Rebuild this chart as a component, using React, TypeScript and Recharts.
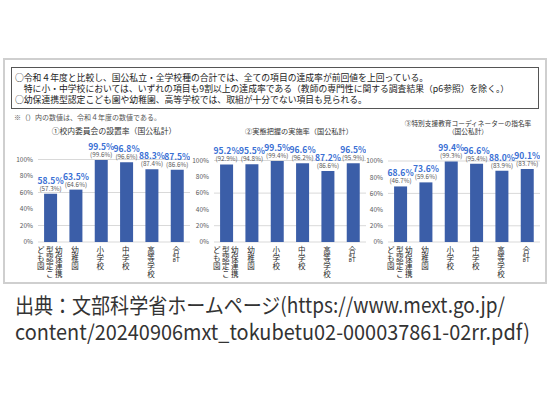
import { Bar, BarChart, CartesianGrid, LabelList, XAxis, YAxis } from "recharts";

const categories = ["幼保連携型認定こども園", "幼稚園", "小学校", "中学校", "高等学校", "合計"];

const committeeRate = [58.5, 63.5, 99.5, 96.8, 88.3, 87.5];
const committeePrev = [57.3, 64.6, 99.6, 96.6, 87.4, 86.6];
const assessmentRate = [95.2, 95.5, 99.5, 96.6, 87.2, 96.5];
const assessmentPrev = [92.9, 94.8, 99.4, 96.2, 86.6, 95.9];
const coordinatorRate = [68.6, 73.6, 99.4, 96.6, 88.0, 90.1];
const coordinatorPrev = [46.7, 59.6, 99.3, 95.4, 83.9, 83.7];

const yTicks = [0, 20, 40, 60, 80, 100];

const summaryLines = [
  "○令和４年度と比較し、国公私立・全学校種の合計では、全ての項目の達成率が前回値を上回っている。",
  "　特に小・中学校においては、いずれの項目も9割以上の達成率である（教師の専門性に関する調査結果（p6参照）を除く。）",
  "○幼保連携型認定こども園や幼稚園、高等学校では、取組が十分でない項目も見られる。",
];
const noteText = "※（）内の数値は、令和４年度の数値である。";
const sourceLines = [
  "出典：文部科学省ホームページ(https://www.mext.go.jp/",
  "content/20240906mxt_tokubetu02-000037861-02rr.pdf)",
];

const FONT = '"Noto Sans CJK JP", "Noto Sans", sans-serif';
const BAR = "#3b5ea8";
const VALUE_BLUE = "#3a70d4";

const build = (rates: number[], prevs: number[]) =>
  categories.map((name, i) => ({ name, rate: rates[i], prev: prevs[i] }));

// vertical (tategaki) category label, 4 chars per column, columns right to left
function CategoryTick({ x, y, payload }: any) {
  const s: string = payload.value;
  const cols: string[] = [];
  for (let i = 0; i < s.length; i += 4) cols.push(s.slice(i, i + 4));
  return (
    <g>
      {cols.map((col, ci) => {
        const cx = x - 1 + ((cols.length - 1) / 2 - ci) * 9;
        return col.split("").map((ch, k) => (
          <text
            key={ci + "-" + k}
            x={cx}
            y={y + 7 + k * 7.9}
            textAnchor="middle"
            fontSize={7.5}
            fill="#262626"
            fontFamily={FONT}
          >
            {ch}
          </text>
        ));
      })}
    </g>
  );
}

function RateChart({
  rates,
  prevs,
  plotLeft,
  plotRight,
  plotTop,
}: {
  rates: number[];
  prevs: number[];
  plotLeft: number;
  plotRight: number;
  plotTop: number;
}) {
  const axisW = 26;
  const top = 120;
  const bottom = 242;
  const left = plotLeft - axisW;
  const width = plotRight - left;
  return (
    <div style={{ position: "absolute", left, top }}>
      <BarChart
        width={width}
        height={bottom - top + 40}
        data={build(rates, prevs)}
        margin={{ top: plotTop - top, right: 0, bottom: 0, left: 0 }}
        barCategoryGap="24%"
        style={{ overflow: "visible" }}
      >
        <CartesianGrid vertical={false} stroke="#d9d9d9" />
        <XAxis
          dataKey="name"
          interval={0}
          axisLine={false}
          tickLine={false}
          tickSize={0}
          tickMargin={4}
          height={40}
          tick={<CategoryTick />}
        />
        <YAxis
          domain={[0, 100]}
          ticks={yTicks}
          width={axisW}
          axisLine={false}
          tickLine={false}
          tickSize={0}
          tickMargin={5}
          tickFormatter={(v) => `${v}%`}
          tick={{ fontSize: 6.5, fill: "#595959", fontFamily: FONT }}
        />
        <Bar dataKey="rate" fill={BAR} isAnimationActive={false}>
          <LabelList
            dataKey="rate"
            content={(p: any) => (
              <text
                x={p.x + p.width / 2}
                y={p.y - 10}
                textAnchor="middle"
                fontSize={8.5}
                fontWeight="bold"
                fill={VALUE_BLUE}
                fontFamily={FONT}
              >
                {Number(p.value).toFixed(1)}%
              </text>
            )}
          />
          <LabelList
            dataKey="prev"
            content={(p: any) => (
              <text
                x={p.x + p.width / 2}
                y={p.y - 3}
                textAnchor="middle"
                fontSize={6.3}
                fill="#595959"
                fontFamily={FONT}
              >
                ({Number(p.value).toFixed(1)}%)
              </text>
            )}
          />
        </Bar>
      </BarChart>
    </div>
  );
}

function Title({ text, cx, y, size }: { text: string; cx: number; y: number; size: number }) {
  return (
    <div
      style={{
        position: "absolute",
        left: cx - 100,
        width: 200,
        top: y,
        textAlign: "center",
        fontSize: size,
        lineHeight: 1.15,
        color: "#333",
        whiteSpace: "pre",
      }}
    >
      {text}
    </div>
  );
}

export default function App() {
  return (
    <div
      style={{
        position: "absolute",
        left: 0,
        top: 0,
        width: 550,
        height: 414,
        background: "#fff",
        fontFamily: FONT,
        overflow: "hidden",
      }}
    >
      <div
        style={{
          position: "absolute",
          left: 3,
          top: 58,
          width: 540,
          height: 222,
          border: "2px solid #cfcfcf",
        }}
      />
      <div
        style={{
          position: "absolute",
          left: 11,
          top: 67,
          width: 526,
          height: 40,
          border: "1px solid #555",
        }}
      />
      {summaryLines.map((line, i) => (
        <div
          key={i}
          style={{
            position: "absolute",
            left: 15,
            top: 71.5 + i * 11.3,
            fontSize: 8.8,
            lineHeight: "11px",
            color: "#222",
            whiteSpace: "pre",
          }}
        >
          {line}
        </div>
      ))}
      <div
        style={{
          position: "absolute",
          left: 14,
          top: 113,
          fontSize: 7,
          lineHeight: "9px",
          color: "#555",
          whiteSpace: "pre",
        }}
      >
        {noteText}
      </div>

      <Title text="①校内委員会の設置率（国公私計）" cx={114} y={127} size={7.8} />
      <Title text="②実態把握の実施率（国公私計）" cx={299} y={127} size={7.2} />
      <Title text={"③特別支援教育コーディネーターの指名率\n（国公私計）"} cx={468} y={120} size={6.7} />

      <RateChart rates={committeeRate} prevs={committeePrev} plotLeft={38} plotRight={190} plotTop={159.5} />
      <RateChart rates={assessmentRate} prevs={assessmentPrev} plotLeft={214} plotRight={366} plotTop={160.5} />
      <RateChart rates={coordinatorRate} prevs={coordinatorPrev} plotLeft={388} plotRight={540} plotTop={161} />

      <svg width={550} height={414} style={{ position: "absolute", left: 0, top: 0, pointerEvents: "none" }}>
        {sourceLines.map((line, i) => (
          <text
            key={i}
            x={15}
            y={313 + i * 27}
            fontSize={21}
            fill="#333"
            fontFamily={FONT}
            textLength={i === 0 ? 490 : 515}
            lengthAdjust="spacingAndGlyphs"
          >
            {line}
          </text>
        ))}
      </svg>
    </div>
  );
}
